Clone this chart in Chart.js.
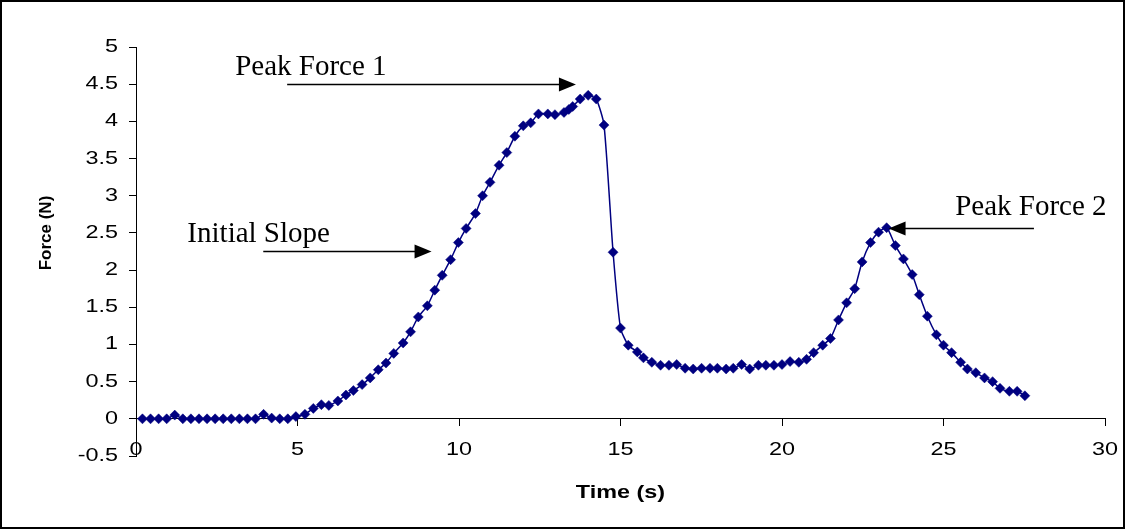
<!DOCTYPE html>
<html>
<head>
<meta charset="utf-8">
<script src="https://cdn.jsdelivr.net/npm/chart.js@4.4.0/dist/chart.umd.min.js"></script>
<style>
  html, body { margin: 0; padding: 0; background: #fff; }
</style>
</head>
<body>
<canvas id="myChart" width="1125" height="529"></canvas>
<script>
// tiempos (s) y fuerzas (N)
const tiempos = [
  0.2, 0.45, 0.7, 0.95, 1.2, 1.45, 1.7, 1.95, 2.2, 2.45,
  2.7, 2.95, 3.2, 3.45, 3.7, 3.95, 4.2, 4.45, 4.7, 4.95,
  5.23, 5.49, 5.74, 5.97, 6.25, 6.5, 6.73, 7.0, 7.25, 7.5,
  7.74, 7.98, 8.27, 8.5, 8.74, 9.02, 9.25, 9.48, 9.74, 9.98,
  10.22, 10.51, 10.73, 10.96, 11.24, 11.48, 11.73, 11.99, 12.22, 12.46,
  12.75, 12.97, 13.25, 13.4, 13.52, 13.75, 14.0, 14.25, 14.49, 14.77,
  15.0, 15.24, 15.52, 15.71, 15.97, 16.24, 16.5, 16.74, 17.0, 17.25,
  17.51, 17.77, 18.0, 18.27, 18.49, 18.75, 19.0, 19.27, 19.5, 19.75,
  20.0, 20.25, 20.52, 20.76, 20.98, 21.26, 21.5, 21.75, 22.0, 22.25,
  22.48, 22.74, 22.99, 23.24, 23.51, 23.76, 24.03, 24.25, 24.5, 24.78,
  25.0, 25.25, 25.53, 25.74, 26.0, 26.27, 26.52, 26.75, 27.04, 27.28,
  27.52
];
const fuerzas = [
  0, 0, 0, 0, 0.05, 0, 0, 0, 0, 0,
  0, 0, 0, 0, 0, 0.06, 0.01, 0, 0, 0.03,
  0.06, 0.14, 0.19, 0.18, 0.24, 0.32, 0.38, 0.46, 0.55, 0.66,
  0.75, 0.88, 1.02, 1.17, 1.37, 1.52, 1.73, 1.93, 2.14, 2.37,
  2.56, 2.76, 3.0, 3.18, 3.41, 3.58, 3.8, 3.94, 3.98, 4.1,
  4.1, 4.09, 4.12, 4.16, 4.2, 4.3, 4.35, 4.3, 3.95, 2.24,
  1.22, 0.99, 0.9, 0.82, 0.76, 0.72, 0.72, 0.73, 0.68, 0.67,
  0.68, 0.68, 0.68, 0.67, 0.68, 0.73, 0.67, 0.72, 0.72, 0.72,
  0.73, 0.77, 0.76, 0.8, 0.89, 0.99, 1.08, 1.33, 1.56, 1.75,
  2.11, 2.37, 2.51, 2.57, 2.33, 2.15, 1.94, 1.67, 1.38, 1.13,
  0.99, 0.89, 0.76, 0.67, 0.62, 0.55, 0.5, 0.41, 0.37, 0.37,
  0.31
];
const xTicks = [0, 5, 10, 15, 20, 25, 30];
const yTicks = [-0.5, 0, 0.5, 1, 1.5, 2, 2.5, 3, 3.5, 4, 4.5, 5];

// notas con flecha, en unidades del grafico
const notas = [
  { texto: "Peak Force 1", tx: 3.07, ty: 4.63, desde: 4.68, hasta: 13.62, fy: 4.5 },
  { texto: "Initial Slope", tx: 1.59, ty: 2.38, desde: 3.94, hasta: 9.15, fy: 2.26 },
  { texto: "Peak Force 2", tx: 25.36, ty: 2.74, desde: 27.8, hasta: 23.3, fy: 2.57 }
];

const ctx = document.getElementById("myChart");
const sansFont = "'Liberation Sans', Arial, sans-serif";
const ancho = 1.3; // el texto sans del original sale algo estirado a lo ancho

function textoAncho(c, txt, x, y, align) {
  c.save();
  c.translate(x, y);
  c.scale(ancho, 1);
  c.textAlign = align;
  c.fillText(txt, 0, 0);
  c.restore();
}

// dibuja etiquetas, notas, titulos de ejes y el marco
const extras = {
  id: "extras",
  afterDraw(chart) {
    const c = chart.ctx;
    const sx = chart.scales.x;
    const sy = chart.scales.y;
    c.save();
    c.fillStyle = "#000";
    c.strokeStyle = "#000";

    // etiquetas de los ejes
    c.font = "18px " + sansFont;
    c.textBaseline = "middle";
    yTicks.forEach((v) => {
      textoAncho(c, String(v), 118, sy.getPixelForValue(v), "right");
    });
    xTicks.forEach((v) => {
      textoAncho(c, String(v), sx.getPixelForValue(v), sy.getPixelForValue(0) + 31, "center");
    });

    c.font = "29px 'Liberation Serif', 'Times New Roman', serif";
    c.textBaseline = "alphabetic";
    c.textAlign = "left";
    notas.forEach((n) => {
      c.fillText(n.texto, sx.getPixelForValue(n.tx), sy.getPixelForValue(n.ty));
      const x1 = sx.getPixelForValue(n.desde);
      const x2 = sx.getPixelForValue(n.hasta);
      const y = Math.round(sy.getPixelForValue(n.fy)) + 0.5;
      const dir = Math.sign(x2 - x1);
      c.lineWidth = 1.5;
      c.beginPath();
      c.moveTo(x1, y);
      c.lineTo(x2 - dir * 15, y);
      c.stroke();
      c.beginPath();
      c.moveTo(x2, y);
      c.lineTo(x2 - dir * 17, y - 7);
      c.lineTo(x2 - dir * 17, y + 7);
      c.closePath();
      c.fill();
    });

    c.font = "bold 18px " + sansFont;
    c.textBaseline = "middle";
    const area = chart.chartArea;
    textoAncho(c, "Time (s)", (area.left + area.right) / 2, 493, "center");
    c.font = "bold 17px " + sansFont;
    c.textAlign = "center";
    c.translate(46, 233);
    c.rotate(-Math.PI / 2);
    c.fillText("Force (N)", 0, 0);
    c.restore();

    c.save();
    c.lineWidth = 2;
    c.strokeStyle = "#000";
    c.strokeRect(1, 1, chart.width - 2, chart.height - 2);
    c.restore();
  }
};

const chart = new Chart(ctx, {
  type: "scatter",
  data: {
    datasets: [
      {
        data: tiempos.map((t, i) => ({ x: t, y: fuerzas[i] })),
        showLine: true,
        tension: 0.2,
        borderColor: "#000080",
        borderWidth: 1.5,
        pointStyle: "rectRot",
        pointRadius: 5,
        pointBackgroundColor: "#000080",
        pointBorderColor: "#000080",
        pointBorderWidth: 0.5
      }
    ]
  },
  options: {
    responsive: false,
    animation: false,
    layout: { padding: { left: 0, right: 20, top: 47, bottom: 73 } },
    plugins: { legend: { display: false }, tooltip: { enabled: false } },
    scales: {
      x: {
        type: "linear",
        position: { y: 0 },
        min: 0,
        max: 30,
        afterBuildTicks: (s) => { s.ticks = xTicks.map((v) => ({ value: v })); },
        grid: { drawOnChartArea: false, drawTicks: true, tickLength: 7, color: "#000" },
        border: { display: true, color: "#000", width: 1 },
        ticks: { display: false }
      },
      y: {
        min: -0.5,
        max: 5,
        afterFit: (s) => { s.width = 136; },
        afterBuildTicks: (s) => { s.ticks = yTicks.map((v) => ({ value: v })); },
        grid: { drawOnChartArea: false, drawTicks: true, tickLength: 7, color: "#000" },
        border: { display: true, color: "#000", width: 1 },
        ticks: { display: false }
      }
    }
  },
  plugins: [extras]
});
</script>
</body>
</html>
